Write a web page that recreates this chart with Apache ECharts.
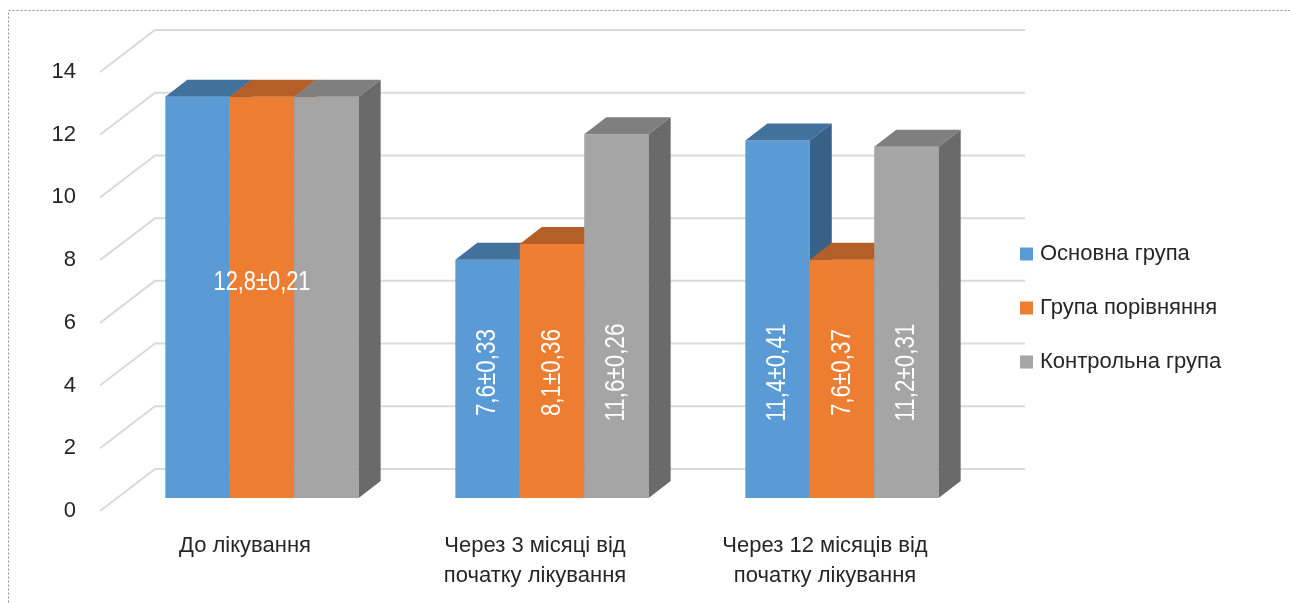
<!DOCTYPE html>
<html>
<head>
<meta charset="utf-8">
<script src="https://cdn.jsdelivr.net/npm/echarts@6/dist/echarts.min.js"></script>
<style>
  html, body { margin: 0; padding: 0; background: #fff; }
  #divBar { width: 1290px; height: 603px; }
</style>
</head>
<body>
<div id="divBar"></div>
<script>
var categories = ['До лікування', 'Через 3 місяці від\nпочатку лікування', 'Через 12 місяців від\nпочатку лікування'];
var seriesNames = ['Основна група', 'Група порівняння', 'Контрольна група'];
var mainValues = [12.8, 7.6, 11.4];
var compareValues = [12.8, 8.1, 7.6];
var controlValues = [12.8, 11.6, 11.2];
var mainLabels = ['', '7,6±0,33', '11,4±0,41'];
var compareLabels = ['12,8±0,21', '8,1±0,36', '7,6±0,37'];
var controlLabels = ['', '11,6±0,26', '11,2±0,31'];
var yTicks = [0, 2, 4, 6, 8, 10, 12, 14];

var FONT = "'Liberation Sans', Arial, sans-serif";
// 3d offsets in px
var WALL_DX = 55, WALL_DY = -42;
var FRONT_DX = 17, FRONT_DY = -13;
var DEPTH_DX = 22, DEPTH_DY = -17;

var palette = [
    { front: '#5B9BD5', top: '#41719C', side: '#376189' },
    { front: '#ED7D31', top: '#B45F27', side: '#AE5A21' },
    { front: '#A5A5A5', top: '#7F7F7F', side: '#6A6A6A' }
];

var bar;
var barOption;

function wallItem(params, api) {
    var cs = params.coordSys;
    var y = api.coord([0, api.value(1)])[1];
    return {
        type: 'polyline',
        shape: {
            points: [[cs.x, y], [cs.x + WALL_DX, y + WALL_DY], [cs.x + cs.width + WALL_DX, y + WALL_DY]]
        },
        style: { stroke: '#D9D9D9', lineWidth: 2, fill: null },
        silent: true
    };
}

// left x of bar si in category c (front face)
function barLeft(api, c, si) {
    var base = api.coord([c, 0]);
    var w = api.size([1, 0])[0] / 4.5;
    return base[0] - 1.5 * w + si * w + FRONT_DX;
}

function makeBarItem(si) {
    return function (params, api) {
        var c = api.value(0);
        var v = api.value(1);
        var w = api.size([1, 0])[0] / 4.5;
        var x0 = barLeft(api, c, si);
        var y0 = api.coord([c, 0])[1] + FRONT_DY;
        var topY = api.coord([c, v])[1] + FRONT_DY;
        var col = palette[si];
        return {
            type: 'group',
            children: [
                {
                    type: 'rect',
                    shape: { x: x0, y: topY, width: w, height: y0 - topY },
                    style: { fill: col.front }
                },
                {
                    type: 'polygon',
                    shape: { points: [[x0, topY], [x0 + DEPTH_DX, topY + DEPTH_DY], [x0 + w + DEPTH_DX, topY + DEPTH_DY], [x0 + w, topY]] },
                    style: { fill: col.top }
                },
                {
                    type: 'polygon',
                    shape: { points: [[x0 + w, topY], [x0 + w + DEPTH_DX, topY + DEPTH_DY], [x0 + w + DEPTH_DX, y0 + DEPTH_DY], [x0 + w, y0]] },
                    style: { fill: col.side }
                }
            ]
        };
    };
}

function labelItem(params, api) {
    var c = api.value(0);
    var si = api.value(1);
    var txt = allLabels[si][c];
    if (!txt) return null;
    var w = api.size([1, 0])[0] / 4.5;
    var font = '28px ' + FONT;
    if (c === 0) {
        return {
            type: 'text',
            x: api.coord([c, 0])[0] + FRONT_DX,
            y: api.coord([c, 6.87])[1] + FRONT_DY,
            scaleX: 0.78,
            style: { text: txt, fill: '#fff', font: font, align: 'center', verticalAlign: 'middle' }
        };
    }
    return {
        type: 'text',
        x: barLeft(api, c, si) + w / 2,
        y: api.coord([c, 4.0])[1] + FRONT_DY,
        rotation: Math.PI / 2,
        scaleX: 0.8,
        style: { text: txt, fill: '#fff', font: font, align: 'center', verticalAlign: 'middle' }
    };
}

var allLabels = [mainLabels, compareLabels, controlLabels];

function bar_init() {
    var chartDom = document.getElementById('divBar');
    bar = echarts.init(chartDom);
    var allValues = [mainValues, compareValues, controlValues];
    var series = [{
        name: 'wall',
        type: 'custom',
        renderItem: wallItem,
        data: yTicks.map(function (t) { return [0, t]; }),
        z: 1,
        silent: true
    }];
    var labelData = [];
    for (var i = 0; i < 3; ++i) {
        series.push({
            name: seriesNames[i],
            type: 'custom',
            renderItem: makeBarItem(i),
            itemStyle: { color: palette[i].front },
            data: allValues[i].map(function (v, k) { return [k, v]; }),
            z: 2
        });
        for (var k = 0; k < categories.length; ++k) {
            labelData.push([k, i]);
        }
    }
    series.push({
        name: 'labels',
        type: 'custom',
        renderItem: labelItem,
        data: labelData,
        z: 3,
        silent: true
    });
    barOption = {
        animation: false,
        textStyle: { fontFamily: FONT },
        graphic: [{
            type: 'rect',
            left: 6, top: 8,
            shape: { width: 1400, height: 700 },
            style: { fill: null, stroke: '#8C8C8C', lineWidth: 1, lineDash: [2, 2] },
            silent: true
        }],
        legend: {
            data: seriesNames,
            orient: 'vertical',
            left: 1015,
            top: 238,
            icon: 'rect',
            itemWidth: 13,
            itemHeight: 13,
            itemGap: 32,
            textStyle: { fontSize: 22, color: '#262626', fontFamily: FONT, padding: [0, 0, 0, 2] }
        },
        grid: {
            left: 100,
            right: 320,
            top: 72,
            bottom: 92
        },
        xAxis: {
            type: 'category',
            data: categories,
            axisLine: { show: false },
            axisTick: { show: false },
            axisLabel: { fontSize: 22, color: '#262626', lineHeight: 30, margin: 20, fontFamily: FONT }
        },
        yAxis: {
            type: 'value',
            min: 0,
            max: 14,
            interval: 2,
            splitLine: { show: false },
            axisLine: { show: false },
            axisLabel: { fontSize: 22, color: '#262626', margin: 24, fontFamily: FONT }
        },
        series: series
    };
    bar.setOption(barOption);
}

bar_init();
</script>
</body>
</html>
